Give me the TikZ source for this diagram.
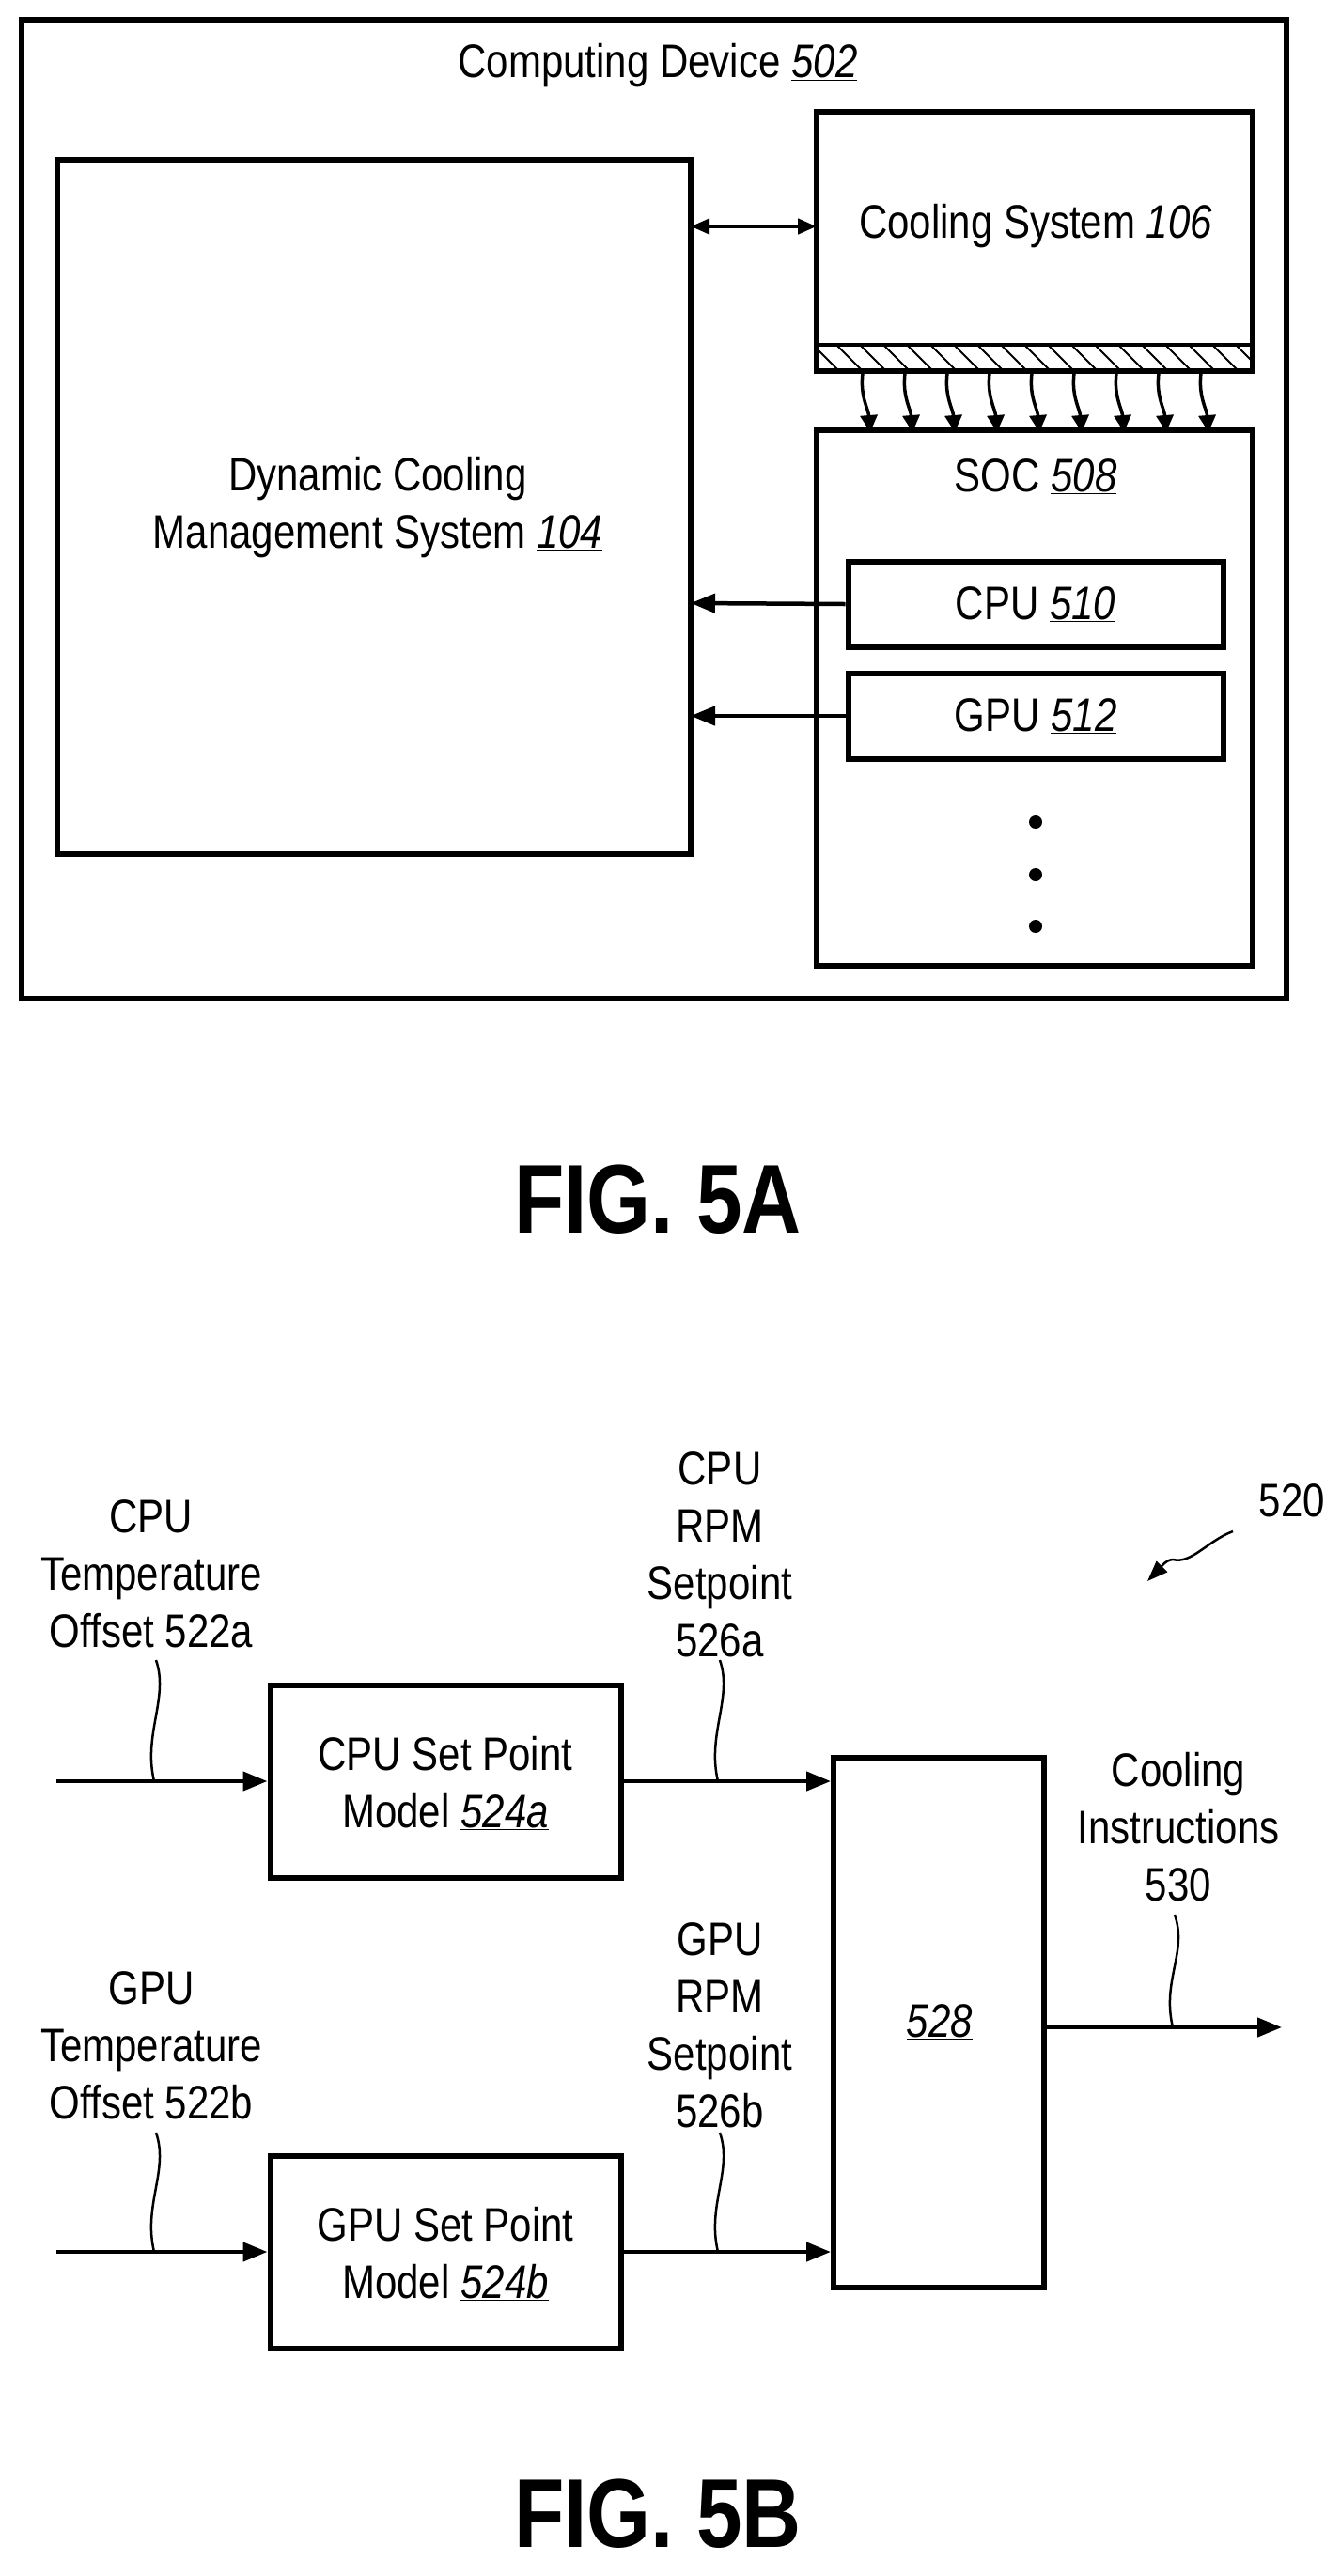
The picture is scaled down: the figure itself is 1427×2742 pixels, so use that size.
\documentclass[tikz,border=0pt]{standalone}
\usepackage{fontspec}
\setmainfont{Liberation Sans}[FakeStretch=0.84]
\usetikzlibrary{arrows.meta}
\begin{document}
\begin{tikzpicture}[x=1pt,y=-1pt,
  box/.style={draw,line width=6pt},
  conn/.style={line width=4.5pt},
  tip/.style={-{Triangle[length=26pt,width=20pt]}},
  lbl/.style={font=\fontsize{50}{61}\selectfont,align=center},
  fig/.style={font=\fontsize{104}{110}\selectfont\bfseries},
  sq/.style={line width=2.5pt}]
\useasboundingbox (0,0) rectangle (1427,2742);
\fill[white] (0,0) rectangle (1427,2742);
% ---- FIG 5A
\draw[box] (23,21) rectangle (1369,1063);
\node[lbl] (cd) at (700,70) {Computing Device \underline{\textit{502}}};
\draw[box] (61,170) rectangle (735,909);
\node[lbl] (dcms) at (402,540) {Dynamic Cooling\\Management System \underline{\textit{104}}};
\coordinate (dcmsR1) at (735,241);
\coordinate (dcmsR2) at (735,642);
\coordinate (dcmsR3) at (735,762);
\draw[box] (869,119) rectangle (1333,395);
\node[lbl] (cs) at (1102,241) {Cooling System \underline{\textit{106}}};
\coordinate (csL) at (869,241);
\begin{scope}
\clip (869,367) rectangle (1333,395);
\foreach \i in {0,...,22} \draw[line width=1.8pt] ({840+\i*25},367) -- ({868+\i*25},395);
\end{scope}
\draw[line width=4pt] (869,367) -- (1333,367);
\draw[conn,{Triangle[length=20pt,width=16pt]}-{Triangle[length=20pt,width=16pt]}] (dcmsR1) -- (csL);
\foreach \i in {0,...,8} {
  \coordinate (ha\i) at ({918+\i*45},397);
  \coordinate (hb\i) at ({926+\i*45},460);
  \draw[line width=3.5pt,-{Triangle[length=18pt,width=18pt]}] (ha\i) .. controls ++(-3,25) and ++(-2,-25) .. (hb\i);
}
\draw[box] (869,458) rectangle (1333,1028);
\node[lbl] (soc) at (1102,507) {SOC \underline{\textit{508}}};
\node[box,minimum width=399pt,minimum height=91pt,lbl] (cpu) at (1102,643) {CPU \underline{\textit{510}}};
\node[box,minimum width=399pt,minimum height=91pt,lbl] (gpu) at (1102,762) {GPU \underline{\textit{512}}};
\draw[conn,tip] (cpu.west) -- (dcmsR2);
\draw[conn,tip] (gpu.west) -- (dcmsR3);
\foreach \y [count=\k] in {875,931,986} \fill (1102,\y) circle (7pt) coordinate (dot\k);
\node[fig] (f5a) at (700,1277) {FIG. 5A};
% ---- FIG 5B
\node[box,minimum width=373pt,minimum height=205pt] (cpum) at (474,1896) {};
\node[lbl] at (474,1898) {CPU Set Point\\Model \underline{\textit{524a}}};
\node[box,minimum width=373pt,minimum height=205pt] (gpum) at (474,2397) {};
\node[lbl] at (474,2399) {GPU Set Point\\Model \underline{\textit{524b}}};
\node[box,minimum width=224pt,minimum height=564pt] (b528) at (999,2153) {};
\node[lbl] at (1000,2152) {\underline{\textit{528}}};
\coordinate (in1) at (60,1896);
\coordinate (in2) at (60,2397);
\coordinate (out) at (1364,2158);
\draw[conn,tip] (in1) -- (cpum.west);
\draw[conn,tip] (in2) -- (gpum.west);
\draw[conn,tip] (cpum.east) -- (cpum.east -| b528.west);
\draw[conn,tip] (gpum.east) -- (gpum.east -| b528.west);
\draw[conn,tip] (b528.east |- out) -- (out);
\node[lbl] (l522a) at (161,1675) {CPU\\Temperature\\Offset 522a};
\node[lbl] (l526a) at (766,1655) {CPU\\RPM\\Setpoint\\526a};
\node[lbl] (l522b) at (161,2177) {GPU\\Temperature\\Offset 522b};
\node[lbl] (l526b) at (766,2156) {GPU\\RPM\\Setpoint\\526b};
\node[lbl] (l530) at (1254,1945) {Cooling\\Instructions\\530};
\node[lbl] (l520) at (1375,1597) {520};
\foreach \x/\a/\b in {166/1767/1896,766/1767/1896,166/2270/2397,766/2270/2397,1250/2038/2158}
  \draw[sq] (\x,\a) .. controls (\x+14,\a+40) and (\x-14,\b-50) .. (\x-2,\b);
\coordinate (p520a) at (1312,1630);
\coordinate (p520b) at (1221,1683);
\draw[line width=2.5pt,-{Triangle[length=22pt,width=16pt]}] (p520a) .. controls (1285,1640) and (1268,1665) .. (1248,1660) .. controls (1240,1660) and (1232,1672) .. (p520b);
\node[fig] (f5b) at (700,2676) {FIG. 5B};
\end{tikzpicture}
\end{document}
